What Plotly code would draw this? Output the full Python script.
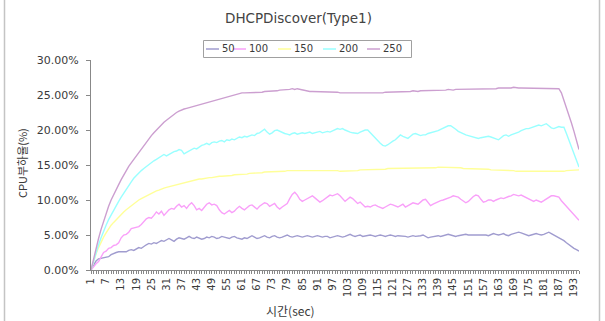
import plotly.graph_objects as go

title_text = "DHCPDiscover(Type1)"
x_title = "시간(sec)"
y_title = "CPU부하율(%)"
series_names = ["50", "100", "150", "200", "250"]
series_colors = ["#a09ccf", "#f9a0f9", "#ffff99", "#99ffff", "#cc9fd0"]

s50 = [
    0, 0.7, 1.3, 1.6, 1.7, 1.7, 1.8, 1.9, 2.2, 2.4, 2.5, 2.6, 2.6, 2.7, 2.6,
    2.8, 2.9, 2.8, 3.0, 3.2, 3.1, 3.4, 3.6, 3.8, 3.7, 3.9, 3.8, 4.0, 4.2, 4.1,
    4.3, 4.5, 4.3, 4.1, 4.4, 4.6, 4.5, 4.4, 4.6, 4.8, 4.6, 4.5, 4.7, 4.6, 4.4,
    4.5, 4.7, 4.6, 4.8, 4.7, 4.5, 4.6, 4.8, 4.7, 4.6, 4.5, 4.7, 4.8, 4.6, 4.5,
    4.4, 4.6, 4.5, 4.7, 4.9, 4.7, 4.5, 4.6, 4.8, 4.9, 4.7, 4.6, 4.8, 4.9, 4.7,
    4.6, 4.7, 4.9, 5.0, 4.8, 4.7, 4.8, 4.9, 4.8, 4.7, 4.8, 4.9, 4.8, 4.7, 4.8,
    4.9, 4.8, 4.7, 4.8, 4.8, 4.6, 4.7, 4.8, 4.9, 4.8, 4.7, 4.8, 5.0, 5.1, 4.9,
    4.8, 4.9, 5.0, 4.8, 4.9, 5.0, 5.0, 4.9, 4.8, 4.9, 5.0, 4.9, 4.8, 4.9, 5.0,
    4.9, 4.8, 4.9, 4.9, 4.8, 4.8, 4.7, 4.8, 4.9, 4.8, 4.8, 4.9, 5.0, 4.8, 4.6,
    4.7, 4.8, 4.8, 4.9, 4.8, 4.9, 5.0, 5.1, 5.0, 4.9, 4.8, 4.9, 5.0, 5.0, 5.1,
    5.0, 5.0, 5.1, 5.1, 5.0, 5.1, 5.1, 5.0, 4.9, 5.1, 5.2, 5.1, 5.0, 5.1, 5.2,
    5.0, 4.9, 5.1, 5.2, 5.3, 5.4, 5.3, 5.2, 5.0, 4.9, 5.0, 5.1, 5.2, 5.1, 5.0,
    5.1, 5.3, 5.4, 5.2, 5.0, 4.9, 4.7, 4.5, 4.2, 3.9, 3.6, 3.3, 3.1, 2.9, 2.7,
]

s100 = [
    0, 0.5, 0.9, 1.2, 1.8, 2.5, 2.7, 3.1, 3.2, 3.5, 3.6, 3.9, 4.6, 5.0, 5.1,
    5.4, 5.9, 6.0, 6.1, 6.2, 6.5, 6.9, 7.3, 7.5, 7.4, 7.8, 8.3, 8.0, 8.4, 7.8,
    8.2, 8.6, 8.8, 8.7, 9.1, 9.4, 9.0, 9.2, 8.8, 9.3, 9.6, 9.2, 8.6, 8.8, 8.5,
    9.0, 9.4, 9.6, 9.3, 9.4, 9.2, 8.6, 8.2, 8.0, 8.3, 8.5, 8.2, 8.4, 8.8, 9.1,
    8.8, 8.6, 8.9, 9.2, 9.3, 9.0, 8.7, 9.1, 9.4, 9.6, 9.5, 9.1, 9.3, 9.5, 9.0,
    8.7, 9.0, 9.2, 9.5, 10.2, 10.8, 11.1, 10.7, 10.1, 9.8, 10.0, 10.2, 10.4, 10.6, 10.3,
    10.0, 9.7, 9.9, 10.2, 10.5, 10.7, 10.6, 10.8, 10.9, 10.6, 10.2, 9.8, 10.1, 10.4, 10.2,
    9.8, 9.5, 9.7, 9.3, 9.0, 9.1, 9.0, 9.2, 9.3, 9.1, 8.9, 8.8, 9.0, 9.2, 9.4,
    9.3, 9.1, 9.0, 9.2, 9.4, 9.0, 9.2, 9.4, 9.6, 9.5, 9.4, 9.7, 10.0, 10.1, 9.6,
    9.2, 9.4, 9.6, 9.8, 9.9, 10.0, 10.1, 10.3, 10.4, 10.6, 10.5, 10.4, 10.1, 9.8, 9.6,
    9.8, 10.2, 10.5, 10.7, 10.6, 10.1, 9.7, 9.8, 10.0, 10.0, 9.8, 10.0, 10.1, 10.3, 10.2,
    10.4, 10.5, 10.6, 10.8, 10.7, 10.6, 10.7, 10.5, 10.3, 10.2, 10.0, 9.8, 10.0, 9.9, 9.7,
    9.9, 10.1, 10.4, 10.6, 10.6, 10.5, 10.4, 9.9, 9.5, 9.1, 8.7, 8.3, 7.9, 7.5, 7.1,
]

s150 = [
    0, 1.2, 2.3, 3.2, 4.0, 4.7, 5.3, 5.9, 6.4, 6.8, 7.2, 7.6, 7.9, 8.3, 8.6,
    8.9, 9.2, 9.5, 9.7, 10.0, 10.2, 10.4, 10.6, 10.8, 11.0, 11.1, 11.3, 11.4, 11.6, 11.7,
    11.8, 11.9, 12.0, 12.1, 12.2, 12.3, 12.4, 12.5, 12.6, 12.7, 12.8, 12.8, 12.9, 13.0, 13.0,
    13.1, 13.1, 13.2, 13.2, 13.3, 13.3, 13.4, 13.4, 13.4, 13.5, 13.5, 13.5, 13.6, 13.6, 13.6,
    13.7, 13.7, 13.7, 13.8, 13.8, 13.8, 13.9, 13.9, 13.9, 14.0, 14.0, 14.0, 14.0, 14.1, 14.1,
    14.1, 14.1, 14.1, 14.2, 14.2, 14.2, 14.2, 14.2, 14.2, 14.3, 14.3, 14.3, 14.2, 14.3, 14.3,
    14.3, 14.3, 14.3, 14.2, 14.3, 14.3, 14.2, 14.2, 14.2, 14.1, 14.1, 14.1, 14.1, 14.2, 14.2,
    14.2, 14.2, 14.3, 14.3, 14.3, 14.3, 14.3, 14.3, 14.4, 14.4, 14.4, 14.4, 14.4, 14.5, 14.5,
    14.5, 14.5, 14.5, 14.5, 14.5, 14.5, 14.6, 14.6, 14.6, 14.6, 14.6, 14.6, 14.6, 14.6, 14.6,
    14.6, 14.6, 14.6, 14.7, 14.7, 14.7, 14.7, 14.7, 14.6, 14.6, 14.6, 14.6, 14.6, 14.5, 14.5,
    14.5, 14.5, 14.5, 14.5, 14.4, 14.4, 14.4, 14.4, 14.4, 14.3, 14.3, 14.3, 14.3, 14.3, 14.2,
    14.2, 14.2, 14.2, 14.2, 14.1, 14.1, 14.1, 14.1, 14.1, 14.1, 14.0, 14.0, 14.0, 14.0, 14.0,
    14.0, 14.0, 14.0, 14.1, 14.1, 14.1, 14.1, 14.1, 14.1, 14.2, 14.2, 14.2, 14.2, 14.3, 14.3,
]

s200 = [
    0, 1.3, 2.5, 3.6, 4.6, 5.6, 6.4, 7.2, 7.9, 8.5, 9.1, 9.8, 10.4, 11.0, 11.6,
    12.1, 12.6, 13.1, 13.5, 13.9, 14.2, 14.5, 14.8, 15.1, 15.3, 15.6, 15.8, 16.0, 16.2, 16.5,
    16.3, 16.5, 16.8, 16.9, 17.0, 17.2, 17.1, 16.6, 16.8, 17.0, 17.2, 17.4, 17.3, 17.6, 17.8,
    17.9, 18.1, 17.9, 18.2, 18.3, 18.2, 18.4, 18.5, 18.3, 18.6, 18.5, 18.7, 18.6, 18.8, 19.0,
    18.9, 19.1, 19.0, 19.2, 19.3, 19.2, 19.5, 19.6, 19.8, 20.1, 19.7, 19.4, 19.6, 19.9, 20.0,
    19.8, 19.6, 19.5, 19.4, 19.3, 19.5, 19.6, 19.4, 19.5, 19.6, 19.5, 19.6, 19.7, 19.5, 19.6,
    19.7, 19.8, 19.6, 19.7, 19.8, 19.7, 19.9, 20.0, 20.2, 20.1, 20.2, 20.0, 19.8, 19.7, 19.6,
    19.5, 19.5, 19.7, 19.9, 20.0, 20.0, 19.6, 19.2, 18.8, 18.5, 18.1, 17.8, 17.7, 17.9, 18.2,
    18.4, 18.6, 19.0, 19.3, 19.1, 18.9, 18.8, 19.1, 19.4, 19.5, 19.3, 19.2, 19.3, 19.3, 19.5,
    19.6, 19.7, 19.7, 19.9, 20.1, 20.3, 20.5, 20.6, 20.6, 20.4, 20.1, 19.8, 19.6, 19.4, 19.3,
    19.2, 19.1, 19.0, 18.9, 18.8, 18.9, 19.0, 19.0, 19.1, 19.0, 18.9, 18.7, 18.6, 18.9, 19.2,
    19.3, 19.1, 19.3, 19.4, 19.5, 19.7, 19.9, 20.1, 20.2, 20.2, 20.3, 20.5, 20.6, 20.7, 20.6,
    20.8, 20.9, 20.6, 20.3, 20.2, 20.4, 20.5, 20.4, 20.4, 19.5, 18.5, 17.5, 16.5, 15.6, 14.7,
]

s250 = [
    0, 1.6, 3.1, 4.5, 5.8, 7.0, 8.1, 9.1, 10.0, 10.8, 11.5, 12.2, 12.9, 13.6, 14.2,
    14.8, 15.3, 15.8, 16.3, 16.8, 17.3, 17.8, 18.3, 18.8, 19.2, 19.6, 20.0, 20.4, 20.8, 21.1,
    21.4, 21.7, 22.0, 22.3, 22.5, 22.7, 22.9, 23.0, 23.1, 23.2, 23.3, 23.4, 23.5, 23.6, 23.8,
    23.9, 24.0, 24.1, 24.2, 24.3, 24.4, 24.5, 24.6, 24.7, 24.8, 24.9, 25.0, 25.1, 25.2, 25.3,
    25.3, 25.3, 25.3, 25.4, 25.3, 25.3, 25.4, 25.4, 25.4, 25.5, 25.5, 25.5, 25.6, 25.6, 25.6,
    25.7, 25.7, 25.8, 25.8, 25.8, 25.9, 25.8, 25.9, 25.8, 25.7, 25.6, 25.5, 25.5, 25.5, 25.5,
    25.4, 25.5, 25.4, 25.4, 25.4, 25.5, 25.4, 25.4, 25.4, 25.3, 25.3, 25.2, 25.2, 25.2, 25.2,
    25.2, 25.2, 25.2, 25.2, 25.2, 25.2, 25.2, 25.2, 25.3, 25.3, 25.3, 25.3, 25.4, 25.4, 25.4,
    25.4, 25.5, 25.5, 25.5, 25.5, 25.4, 25.5, 25.5, 25.6, 25.5, 25.5, 25.6, 25.6, 25.6, 25.7,
    25.6, 25.6, 25.7, 25.7, 25.7, 25.7, 25.7, 25.8, 25.7, 25.7, 25.8, 25.8, 25.8, 25.8, 25.8,
    25.8, 25.9, 25.8, 25.9, 25.9, 25.9, 25.9, 25.9, 25.9, 25.9, 25.9, 25.9, 26.0, 26.0, 26.0,
    25.9, 26.0, 26.0, 26.1, 26.0, 26.0, 26.0, 26.0, 26.0, 26.0, 26.0, 26.0, 26.0, 26.0, 26.0,
    26.0, 25.9, 26.0, 26.0, 25.9, 25.9, 25.9, 25.3, 24.3, 23.2, 22.0, 21.0, 19.8, 18.5, 17.2,
]

series_values = [s50, s100, s150, s200, s250]
seconds = list(range(1, len(s50) + 1))

W, H = 605, 321
ML, MR, MT, MB = 91, 26, 60, 51
PW, PH = W - ML - MR, H - MT - MB


def px(xp):
    return (xp - ML) / PW


def py(yp):
    return (H - MB - yp) / PH


FONT = "DejaVu Sans, Noto Sans CJK KR, sans-serif"
KFONT = "Noto Sans CJK KR, DejaVu Sans, sans-serif"
TXT = "#3a3a3a"

fig = go.Figure()
for name, vals, col in zip(series_names, series_values, series_colors):
    fig.add_trace(go.Scatter(x=seconds, y=vals, mode="lines", name=name,
                             line=dict(color=col, width=1.4), showlegend=False))

shapes = []
annotations = []

# outer frame lines (left / right)
for xx in (4.5, 599.5):
    shapes.append(dict(type="line", xref="paper", yref="paper",
                       x0=px(xx), x1=px(xx), y0=py(H), y1=py(0),
                       line=dict(color="#c4c4c4", width=1.5)))

# legend box
shapes.append(dict(type="rect", xref="paper", yref="paper",
                   x0=px(203.5), x1=px(411.5), y0=py(57.5), y1=py(40.5),
                   line=dict(color="#a0a0a0", width=1), fillcolor="white"))
leg_pos = [206, 233, 278, 323, 367]
for name, col, x0 in zip(series_names, series_colors, leg_pos):
    shapes.append(dict(type="line", xref="paper", yref="paper",
                       x0=px(x0), x1=px(x0 + 13), y0=py(49), y1=py(49),
                       line=dict(color=col, width=1.5)))
    annotations.append(dict(xref="paper", yref="paper", x=px(x0 + 14), y=py(49),
                            text=name, showarrow=False, xanchor="left", yanchor="middle",
                            font=dict(family=FONT, size=10, color=TXT)))

# title
annotations.append(dict(xref="paper", yref="paper", x=px(298), y=py(18),
                        text=title_text, showarrow=False, xanchor="center", yanchor="middle",
                        font=dict(family=FONT, size=13.5, color="#444444")))
# axis titles
annotations.append(dict(xref="paper", yref="paper", x=px(290), y=py(310),
                        text=x_title, showarrow=False, xanchor="center", yanchor="middle",
                        font=dict(family=KFONT, size=12, color=TXT)))
annotations.append(dict(xref="paper", yref="paper", x=px(22), y=py(163),
                        text=y_title, showarrow=False, xanchor="center", yanchor="middle",
                        textangle=-90, font=dict(family=KFONT, size=11, color=TXT)))

fig.update_layout(
    width=W, height=H,
    margin=dict(l=ML, r=MR, t=MT, b=MB, pad=0),
    paper_bgcolor="white", plot_bgcolor="white",
    shapes=shapes, annotations=annotations,
    showlegend=False,
)
fig.update_xaxes(
    range=[1, len(seconds)], tickmode="linear", tick0=1, dtick=6,
    tickangle=-90, ticks="outside", ticklen=3, tickcolor="#888888",
    showline=True, linecolor="#888888", linewidth=1, showgrid=False, zeroline=False,
    tickfont=dict(family=FONT, size=10, color=TXT),
    minor=dict(tickmode="linear", tick0=1, dtick=1, ticks="outside", ticklen=3,
               tickcolor="#888888", showgrid=False),
)
fig.update_yaxes(
    range=[0, 30], tickmode="linear", tick0=0, dtick=5,
    tickformat=".2f", ticksuffix="%", ticks="outside", ticklen=4, tickcolor="#888888",
    ticklabelstandoff=5,
    showline=True, linecolor="#888888", linewidth=1, showgrid=False, zeroline=False,
    tickfont=dict(family=FONT, size=11, color=TXT),
)

fig.write_html("out.html")
